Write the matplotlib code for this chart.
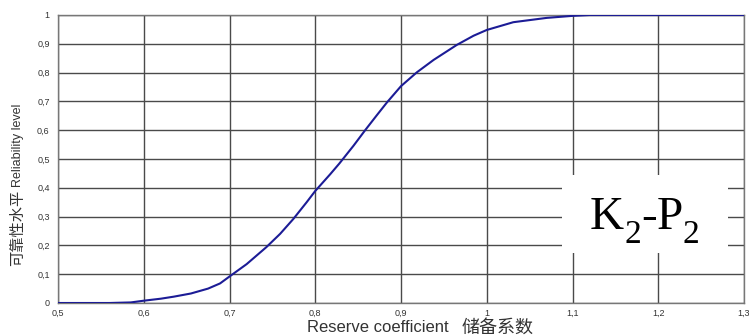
import matplotlib.pyplot as plt
from matplotlib.patches import Rectangle
from matplotlib.ticker import FuncFormatter

plt.rcParams["font.family"] = ["Liberation Sans", "Noto Sans CJK SC", "DejaVu Sans"]

# reliability curve K2-P2
reserve = [0.5, 0.56, 0.585, 0.6, 0.62, 0.635, 0.655, 0.675, 0.689, 0.7,
           0.72, 0.743, 0.759, 0.7745, 0.79, 0.8, 0.8174, 0.828, 0.8446, 0.8582,
           0.8718, 0.8835, 0.9, 0.9185, 0.938, 0.965, 0.9846, 1.0, 1.031, 1.07,
           1.1, 1.12, 1.3]
reliability = [0.0, 0.0, 0.002, 0.008, 0.015, 0.022, 0.033, 0.05, 0.068, 0.092,
               0.135, 0.194, 0.24, 0.292, 0.35, 0.389, 0.447, 0.484, 0.546, 0.60,
               0.652, 0.696, 0.753, 0.801, 0.844, 0.896, 0.928, 0.948, 0.975, 0.99,
               0.997, 1.0, 1.0]

x_ticks = [0.5, 0.6, 0.7, 0.8, 0.9, 1.0, 1.1, 1.2, 1.3]
y_ticks = [0, 0.1, 0.2, 0.3, 0.4, 0.5, 0.6, 0.7, 0.8, 0.9, 1.0]


def comma_fmt(v, pos):
    s = f"{v:.1f}".rstrip("0").rstrip(".")
    return s.replace(".", ",")


fig = plt.figure(figsize=(7.49, 3.36), dpi=100)
ax = fig.add_axes([58 / 749, 1 - 303 / 336, 686 / 749, 288 / 336])

ax.plot(reserve, reliability, color="#1c1c96", lw=1.5, zorder=4)

ax.set_xlim(0.5, 1.3)
ax.set_ylim(0, 1)
ax.set_xticks(x_ticks)
ax.set_yticks(y_ticks)
ax.xaxis.set_major_formatter(FuncFormatter(comma_fmt))
ax.yaxis.set_major_formatter(FuncFormatter(comma_fmt))
ax.tick_params(length=0, labelsize=6.5, colors="#333333")
ax.tick_params(axis="x", pad=4)
ax.tick_params(axis="y", pad=6)
ax.grid(True, color="#4a4a4a", lw=1.0)
ax.set_axisbelow(True)
for sp in ax.spines.values():
    sp.set_color("#777777")
    sp.set_linewidth(1.0)

# white label box with K2-P2, subscripts built from separate pieces
ax.add_patch(Rectangle((0.735, 0.174), 0.242, 0.27, transform=ax.transAxes,
                       facecolor="white", edgecolor="none", zorder=3))
serif = dict(family="Liberation Serif", color="black", zorder=5, va="bottom")
k = ax.text(0.7755, 0.2225, "K", transform=ax.transAxes, fontsize=34,
            ha="left", **serif)
s1 = ax.annotate("2", xy=(1, 0), xycoords=k, xytext=(0, -8),
                 textcoords="offset points", fontsize=24, **serif)
dash = ax.annotate("-", xy=(1, 0), xycoords=s1, xytext=(0, 8),
                   textcoords="offset points", fontsize=34, **serif)
p = ax.annotate("P", xy=(1, 0), xycoords=dash, xytext=(0, 0),
                textcoords="offset points", fontsize=34, **serif)
ax.annotate("2", xy=(1, 0), xycoords=p, xytext=(0, -8),
            textcoords="offset points", fontsize=24, **serif)

fig.text(307 / 749, 1 - 328 / 336, "Reserve coefficient", ha="left", va="center",
         fontsize=12, color="#333333")
fig.text(462 / 749, 1 - 328 / 336, "储备系数", ha="left", va="center",
         fontsize=13, color="#333333")
fig.text(18 / 749, 1 - 145 / 336, "Reliability level", rotation=90,
         ha="center", va="center", fontsize=9, color="#333333")
fig.text(18 / 749, 1 - 228 / 336, "可靠性水平", rotation=90,
         ha="center", va="center", fontsize=11, color="#333333")

fig.savefig("out.png", dpi=100)
